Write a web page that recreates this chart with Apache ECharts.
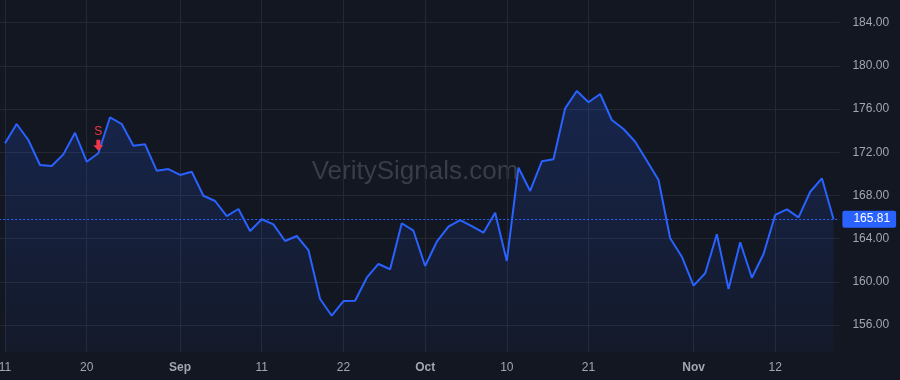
<!DOCTYPE html>
<html>
<head>
<meta charset="utf-8">
<title>VeritySignals</title>
<script src="https://cdn.jsdelivr.net/npm/echarts@6/dist/echarts.min.js"></script>
<style>
  html, body { margin: 0; padding: 0; background: #131722; }
  #chart { width: 900px; height: 380px; }
</style>
</head>
<body>
<div id="chart"></div>
<script>
// trading days, Aug 11 -> Nov 19
const dates = [
  '2025-08-11', '2025-08-12', '2025-08-13', '2025-08-14', '2025-08-15', '2025-08-18', '2025-08-19', '2025-08-20',
  '2025-08-21', '2025-08-22', '2025-08-25', '2025-08-26', '2025-08-27', '2025-08-28', '2025-08-29',
  '2025-09-02', '2025-09-03', '2025-09-04', '2025-09-05', '2025-09-08', '2025-09-09', '2025-09-10', '2025-09-11',
  '2025-09-12', '2025-09-15', '2025-09-16', '2025-09-17', '2025-09-18', '2025-09-19', '2025-09-22', '2025-09-23',
  '2025-09-24', '2025-09-25', '2025-09-26', '2025-09-29', '2025-09-30',
  '2025-10-01', '2025-10-02', '2025-10-03', '2025-10-06', '2025-10-07', '2025-10-08', '2025-10-09', '2025-10-10',
  '2025-10-13', '2025-10-14', '2025-10-15', '2025-10-16', '2025-10-17', '2025-10-20', '2025-10-21', '2025-10-22',
  '2025-10-23', '2025-10-24', '2025-10-27', '2025-10-28', '2025-10-29', '2025-10-30', '2025-10-31',
  '2025-11-03', '2025-11-04', '2025-11-05', '2025-11-06', '2025-11-07', '2025-11-10', '2025-11-11', '2025-11-12',
  '2025-11-13', '2025-11-14', '2025-11-17', '2025-11-18', '2025-11-19'
];

const closes = [
  172.83, 174.62, 173.14, 170.82, 170.73, 171.81, 173.81, 171.13,
  171.91, 175.24, 174.62, 172.61, 172.74, 170.30, 170.45,
  169.90, 170.20, 167.98, 167.49, 166.10, 166.75, 164.71, 165.80,
  165.33, 163.79, 164.25, 162.95, 158.42, 156.87, 158.23, 158.26,
  160.39, 161.66, 161.17, 165.43, 164.74,
  161.47, 163.72, 165.11, 165.73, 165.17, 164.56, 166.41, 161.94,
  170.57, 168.42, 171.17, 171.35, 176.07, 177.68, 176.63, 177.40,
  174.99, 174.16, 172.98, 171.22, 169.44, 164.04, 162.33,
  159.65, 160.80, 164.41, 159.34, 163.67, 160.39, 162.58, 166.20,
  166.72, 165.98, 168.35, 169.59, 165.81
];

// x axis labels
const tickDates = ['2025-08-11', '2025-08-20', '2025-09-02', '2025-09-11', '2025-09-22',
  '2025-10-01', '2025-10-10', '2025-10-21', '2025-11-03', '2025-11-12'];
const tickLabels = ['11', '20', 'Sep', '11', '22', 'Oct', '10', '21', 'Nov', '12'];
const monthLabels = ['Sep', 'Oct', 'Nov'];

// y axis ticks
const yMin = 152;
const yMax = 188;
const yStep = 4;

// sell signal
const signalDates = ['2025-08-21'];
const signalTexts = ['S'];

const lastClose = closes[closes.length - 1];

const FONT = 'Liberation Sans, Arial, sans-serif';
const TEXT = '#a3a6af';
const GRID = '#242833';
const BLUE = '#2962ff';
const RED = '#f23645';

const chart = echarts.init(document.getElementById('chart'));

const isTick = (idx, value) => tickDates.indexOf(value) !== -1;

// first and last split line sit outside the visible price range
const ySplitColors = [];
for (let v = yMin; v <= yMax; v += yStep) {
  ySplitColors.push(v < 154 || v > 186 ? 'rgba(0,0,0,0)' : GRID);
}

const option = {
  backgroundColor: '#131722',
  animation: false,
  textStyle: { fontFamily: FONT },
  graphic: [
    {
      type: 'text',
      x: 415,
      y: 172,
      z: 0,
      silent: true,
      style: {
        text: 'VeritySignals.com',
        fill: '#393d49',
        font: '26px ' + FONT,
        align: 'center',
        verticalAlign: 'middle'
      }
    }
  ],
  grid: [
    // price pane
    { left: -0.83, right: 60.6, top: -20.5, bottom: 11.7, outerBoundsMode: 'none', containLabel: false },
    // time scale + vertical grid lines
    { left: 5, right: 66.4, top: 0, bottom: 28, outerBoundsMode: 'none', containLabel: false }
  ],
  xAxis: [
    {
      gridIndex: 0,
      type: 'category',
      data: dates,
      boundaryGap: true,
      show: false
    },
    {
      gridIndex: 1,
      type: 'category',
      data: dates,
      boundaryGap: false,
      axisLine: { show: false },
      axisTick: { show: false },
      splitLine: {
        show: true,
        interval: isTick,
        lineStyle: { color: GRID, width: 1 }
      },
      axisLabel: {
        interval: isTick,
        margin: 10,
        fontSize: 12,
        color: TEXT,
        formatter: (value) => {
          const i = tickDates.indexOf(value);
          if (i === -1) return '';
          const t = tickLabels[i];
          return monthLabels.indexOf(t) !== -1 ? '{m|' + t + '}' : t;
        },
        rich: {
          m: { fontWeight: 'bold', fontSize: 12, color: TEXT, fontFamily: FONT }
        }
      }
    }
  ],
  yAxis: [
    {
      gridIndex: 0,
      type: 'value',
      position: 'right',
      min: yMin,
      max: yMax,
      interval: yStep,
      axisLine: { show: false },
      axisTick: { show: false },
      splitLine: { lineStyle: { color: ySplitColors, width: 1 } },
      axisLabel: {
        margin: 13,
        fontSize: 12,
        color: TEXT,
        formatter: (v) => (v < 154 || v > 186 ? '' : v.toFixed(2))
      }
    },
    {
      gridIndex: 1,
      type: 'value',
      show: false
    }
  ],
  series: [
    {
      type: 'line',
      xAxisIndex: 0,
      yAxisIndex: 0,
      data: closes,
      showSymbol: false,
      symbol: 'none',
      z: 3,
      lineStyle: { color: BLUE, width: 2 },
      areaStyle: {
        origin: 153.5,
        color: new echarts.graphic.LinearGradient(0, 0, 0, 1, [
          { offset: 0, color: 'rgba(41, 98, 255, 0.28)' },
          { offset: 1, color: 'rgba(41, 98, 255, 0.05)' }
        ])
      },
      markLine: {
        silent: true,
        symbol: ['none', 'none'],
        lineStyle: { color: BLUE, type: [2, 2], width: 1 },
        label: {
          show: true,
          position: 'end',
          distance: 3,
          formatter: () => lastClose.toFixed(2),
          color: '#ffffff',
          fontSize: 12,
          fontFamily: FONT,
          backgroundColor: BLUE,
          borderRadius: 2,
          lineHeight: 13,
          padding: [2, 6, 2, 11]
        },
        data: [{ yAxis: lastClose }]
      },
      markPoint: {
        silent: true,
        data: signalDates.map((d, k) => ({
          coord: [d, closes[dates.indexOf(d)]],
          symbol: 'path://M3,0 L7,0 L7,5 L10,5 L5,10 L0,5 L3,5 Z',
          symbolSize: [10, 11],
          symbolOffset: [0, -8],
          itemStyle: { color: RED },
          label: {
            show: true,
            position: 'top',
            distance: 2,
            formatter: signalTexts[k],
            color: RED,
            fontSize: 12,
            fontFamily: FONT
          }
        }))
      }
    }
  ]
};

chart.setOption(option);
</script>
</body>
</html>
